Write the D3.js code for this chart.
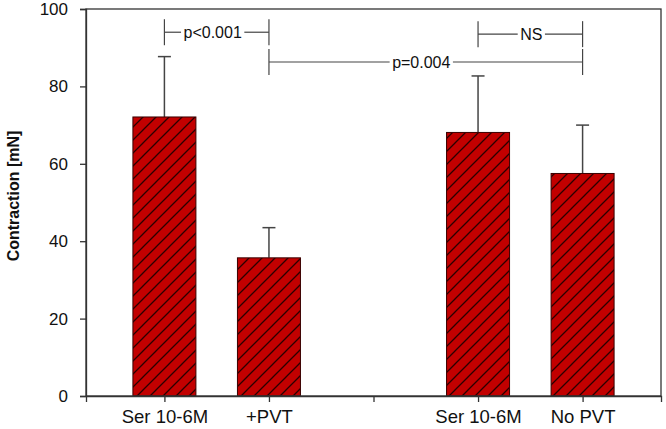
<!DOCTYPE html>
<html><head><meta charset="utf-8">
<script src="https://cdn.jsdelivr.net/npm/d3@7"></script>
<style>body{margin:0;background:#fff}svg{display:block}text{font-family:"Liberation Sans",Arial,sans-serif;fill:#111}</style>
</head><body><svg id="c" width="666" height="429"></svg>
<script>
const positions = [0, 1, 3, 4];
const categories = ["Ser 10-6M", "+PVT", "Ser 10-6M", "No PVT"];
const means = [72.1, 35.7, 68.1, 57.5];
const errTops = [87.7, 43.5, 82.7, 70.0];
const yTicks = [0, 20, 40, 60, 80, 100];
const xTickPositions = [0, 1, 2, 3, 4];
const xTickLabels = ["Ser 10-6M", "+PVT", "", "Ser 10-6M", "No PVT"];
const sigFrom = [0, 1, 3];
const sigTo = [1, 4, 4];
const sigLevel = [94, 86.3, 93.5];
const sigLabels = ["p<0.001", "p=0.004", "NS"];

const svg = d3.select("#c");
const L = 86, R = 661, T = 9, B = 396;
const x = d3.scaleLinear().domain([-0.75, 4.75]).range([L, R]);
const y = d3.scaleLinear().domain([0, 100]).range([B, T]);
const bw = 63;
const axisColor = "#333";
const font = "Liberation Sans, Arial, sans-serif";

const s = 13;
const defs = svg.append("defs");
const pat = defs.append("pattern").attr("id", "hatch").attr("patternUnits", "userSpaceOnUse")
  .attr("width", s).attr("height", s);
pat.append("rect").attr("width", s).attr("height", s).attr("fill", "#c20000");
pat.append("path").attr("d", `M0,${s} L${s},0 M-2,2 L2,-2 M${s-2},${s+2} L${s+2},${s-2}`)
  .attr("stroke", "#2a0000").attr("stroke-width", 1.3);

// error bars
const eb = svg.append("g").attr("stroke", "#444").attr("stroke-width", 1.5);
positions.forEach((p, i) => {
  eb.append("line").attr("x1", x(p)).attr("x2", x(p)).attr("y1", y(means[i])).attr("y2", y(errTops[i]));
  eb.append("line").attr("x1", x(p) - 6.5).attr("x2", x(p) + 6.5).attr("y1", y(errTops[i])).attr("y2", y(errTops[i]));
});

// bars
svg.append("g").selectAll("rect").data(positions).join("rect")
  .attr("x", d => x(d) - bw / 2).attr("width", bw)
  .attr("y", (d, i) => y(means[i])).attr("height", (d, i) => B - y(means[i]))
  .attr("fill", "url(#hatch)").attr("stroke", "#3a0000").attr("stroke-width", 1);

// frame
svg.append("rect").attr("x", L).attr("y", T).attr("width", R - L).attr("height", B - T)
  .attr("fill", "none").attr("stroke", axisColor).attr("stroke-width", 1.3);

// axes
const ya = svg.append("g").attr("transform", `translate(${L},0)`)
  .call(d3.axisLeft(y).tickValues(yTicks).tickSize(6).tickPadding(12).tickFormat(d3.format("d")));
ya.select(".domain").attr("stroke", axisColor).attr("stroke-width", 1.3);
ya.selectAll(".tick line").attr("stroke", axisColor).attr("stroke-width", 1.3);
ya.selectAll("text").attr("font-size", 17).style("font-family", font).attr("fill", "#111");

const xa = svg.append("g").attr("transform", `translate(0,${B})`)
  .call(d3.axisBottom(x).tickValues(xTickPositions).tickSize(6).tickPadding(8).tickFormat((d, i) => xTickLabels[i]));
xa.select(".domain").attr("stroke", axisColor).attr("stroke-width", 1.3);
xa.selectAll(".tick line").attr("stroke", axisColor).attr("stroke-width", 1.3);
xa.selectAll("text").attr("font-size", 18.5).style("font-family", font).attr("fill", "#111");

// y label
svg.append("text").attr("transform", `translate(19,196) rotate(-90)`)
  .attr("text-anchor", "middle").attr("font-size", 16).attr("font-weight", "bold").text("Contraction [mN]");

// significance brackets
const textShift = {"p<0.001": -4, "p=0.004": -4.5, "NS": 1};
const sg = svg.append("g");
sigLabels.forEach((lab, i) => {
  const x1 = x(sigFrom[i]), x2 = x(sigTo[i]), yy = y(sigLevel[i]);
  const tx = (x1 + x2) / 2 + textShift[lab];
  const t = sg.append("text").attr("x", tx).attr("y", yy + 5.5).attr("text-anchor", "middle")
    .attr("font-size", 16).text(lab);
  const w = t.node().getComputedTextLength();
  const gap = 2.5;
  const g2 = sg.append("g").attr("stroke", "#444").attr("stroke-width", 1.2);
  g2.append("line").attr("x1", x1).attr("x2", tx - w / 2 - gap).attr("y1", yy).attr("y2", yy);
  g2.append("line").attr("x1", tx + w / 2 + gap).attr("x2", x2).attr("y1", yy).attr("y2", yy);
  g2.append("line").attr("x1", x1).attr("x2", x1).attr("y1", yy - 13).attr("y2", yy + 13);
  g2.append("line").attr("x1", x2).attr("x2", x2).attr("y1", yy - 13).attr("y2", yy + 13);
});
</script></body></html>
